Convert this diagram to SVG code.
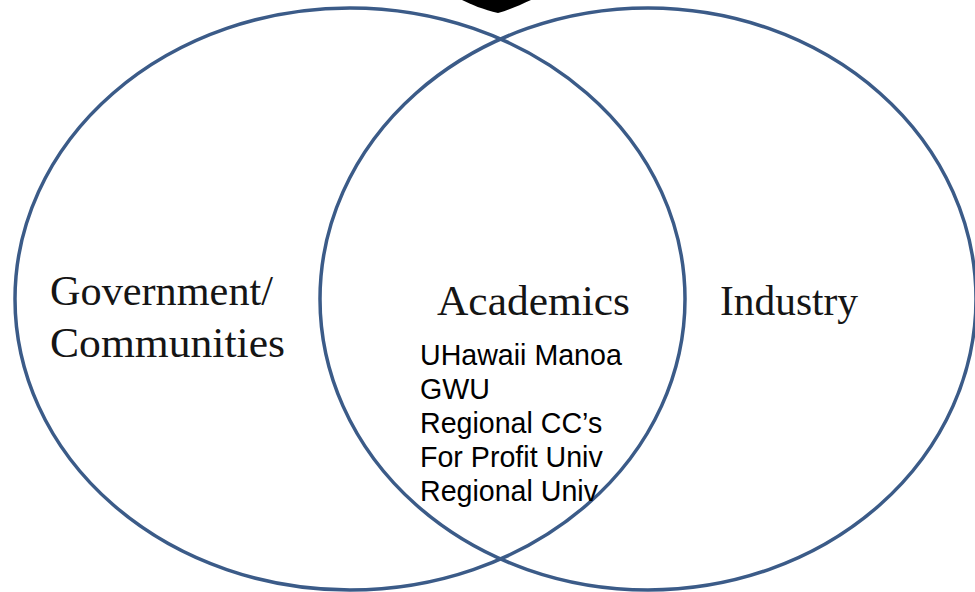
<svg xmlns="http://www.w3.org/2000/svg" width="975" height="592" viewBox="0 0 975 592">
  <style>
    .ring { fill: none; stroke: #3b5b88; stroke-width: 3.5; }
    .serif { font-family: "Liberation Serif", "Times New Roman", serif; font-size: 42px; fill: #151515; }
    .sans { font-family: "Liberation Sans", Arial, sans-serif; font-size: 28.6px; fill: #000; }
  </style>
  <rect width="975" height="592" fill="#ffffff"/>
  <g id="top-shape">
    <path d="M462,0 C470,4 484,10 498,13 C509,10 520,5 531,0 Z" fill="#000"/>
  </g>
  <g id="government">
    <ellipse class="ring" cx="350" cy="299" rx="335" ry="291"/>
    <text class="serif" x="50" y="305" textLength="223" lengthAdjust="spacingAndGlyphs">Government/</text>
    <text class="serif" x="50" y="357" textLength="235" lengthAdjust="spacingAndGlyphs">Communities</text>
  </g>
  <g id="industry">
    <ellipse class="ring" cx="648" cy="299" rx="328" ry="291"/>
    <text class="serif" x="720" y="315" textLength="138" lengthAdjust="spacingAndGlyphs">Industry</text>
  </g>
  <g id="academics">
    <text class="serif" x="437" y="315" textLength="193" lengthAdjust="spacingAndGlyphs">Academics</text>
    <text class="sans" x="420" y="365">UHawaii Manoa</text>
    <text class="sans" x="420" y="399">GWU</text>
    <text class="sans" x="420" y="433">Regional CC’s</text>
    <text class="sans" x="420" y="467">For Profit Univ</text>
    <text class="sans" x="420" y="501">Regional Univ</text>
  </g>
</svg>
